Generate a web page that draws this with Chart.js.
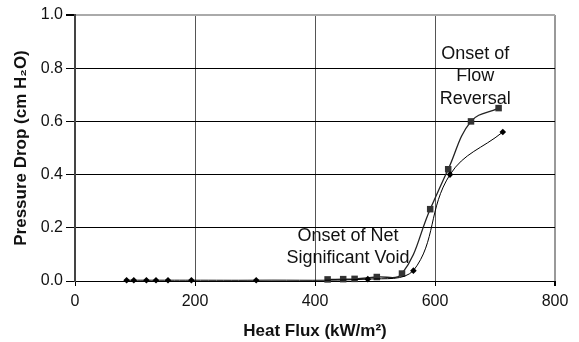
<!DOCTYPE html>
<html>
<head>
<meta charset="utf-8">
<script src="https://cdn.jsdelivr.net/npm/chart.js@4.4.1/dist/chart.umd.min.js"></script>
<style>
  html, body { margin: 0; padding: 0; background: #fff; }
  #wrap { width: 579px; height: 342px; }
</style>
</head>
<body>
<div id="wrap"><canvas id="c" width="579" height="342"></canvas></div>
<script>
// Data
const xTicks = [0, 200, 400, 600, 800];
const yTicks = [0.0, 0.2, 0.4, 0.6, 0.8, 1.0];

const diamondX = [86, 98, 119, 135, 155, 194, 302, 488, 564, 625, 713];
const diamondY = [0.003, 0.003, 0.003, 0.003, 0.003, 0.003, 0.003, 0.007, 0.039, 0.40, 0.56];

const squareX = [421, 447, 466, 503, 545, 592, 622, 660, 706];
const squareY = [0.006, 0.007, 0.008, 0.015, 0.028, 0.27, 0.42, 0.60, 0.65];

const annotations = [
  { lines: ["Onset of", "Flow", "Reversal"], x: 667, y: [0.855, 0.77, 0.683] },
  { lines: ["Onset of Net", "Significant Void"], x: 455, y: [0.169, 0.086] }
];

const xTitle = "Heat Flux (kW/m\u00B2)";
const yTitle = "Pressure Drop (cm H\u2082O)";

const FONT = "'Liberation Sans', Arial, sans-serif";

const annotationPlugin = {
  id: 'annots',
  afterDatasetsDraw(chart) {
    const ctx = chart.ctx;
    const xs = chart.scales.x, ys = chart.scales.y;
    ctx.save();
    ctx.font = "18px " + FONT;
    ctx.fillStyle = "#111";
    ctx.textAlign = "center";
    ctx.textBaseline = "middle";
    annotations.forEach(a => {
      a.lines.forEach((t, i) => {
        ctx.fillText(t, xs.getPixelForValue(a.x), ys.getPixelForValue(a.y[i]));
      });
    });
    ctx.restore();
  }
};

new Chart(document.getElementById('c'), {
  type: 'line',
  data: {
    datasets: [
      {
        data: diamondX.map((x, i) => ({ x, y: diamondY[i] })),
        borderColor: '#000',
        backgroundColor: '#000',
        borderWidth: 1,
        pointStyle: 'rectRot',
        pointRadius: 3.3,
        pointBorderWidth: 0,
        tension: 0.4,
        clip: false
      },
      {
        data: squareX.map((x, i) => ({ x, y: squareY[i] })),
        borderColor: '#222',
        backgroundColor: '#333',
        borderWidth: 1.3,
        pointStyle: 'rect',
        pointRadius: 4.6,
        pointBorderWidth: 0,
        tension: 0.4,
        clip: false
      }
    ]
  },
  options: {
    responsive: false,
    animation: false,
    devicePixelRatio: 1,
    layout: { padding: { left: 0, right: 24, top: 15, bottom: 0 } },
    plugins: { legend: { display: false }, tooltip: { enabled: false } },
    scales: {
      x: {
        type: 'linear',
        min: 0, max: 800,
        afterBuildTicks: s => { s.ticks = xTicks.map(v => ({ value: v })); },
        afterFit: s => { s.height = 61; },
        ticks: {
          font: { size: 16, family: FONT },
          color: '#111',
          padding: 6,
          maxRotation: 0
        },
        grid: {
          color: c => (c.tick && c.tick.value === 800) ? '#999' : '#555',
          lineWidth: c => (c.tick && c.tick.value === 800) ? 2 : 1,
          tickColor: '#000',
          tickLength: 5
        },
        border: { color: '#000', width: 1 },
        title: {
          display: true,
          text: xTitle,
          font: { size: 17, weight: 'bold', family: FONT },
          color: '#111',
          padding: { top: 0, bottom: 0 }
        }
      },
      y: {
        type: 'linear',
        min: 0, max: 1.0,
        afterBuildTicks: s => { s.ticks = yTicks.map(v => ({ value: v })); },
        afterFit: s => { s.width = 75; },
        ticks: {
          font: { size: 16, family: FONT },
          color: '#111',
          padding: 3,
          callback: v => v.toFixed(1)
        },
        grid: {
          color: c => (c.tick && c.tick.value === 1.0) ? '#aaa' : '#000',
          lineWidth: c => (c.tick && c.tick.value === 1.0) ? 2 : 1,
          tickColor: '#000',
          tickLength: 9
        },
        border: { color: '#444', width: 2 },
        title: {
          display: true,
          text: yTitle,
          font: { size: 17, weight: 'bold', family: FONT },
          color: '#111',
          padding: { top: 11, bottom: 0 }
        }
      }
    }
  },
  plugins: [annotationPlugin]
});
</script>
</body>
</html>
